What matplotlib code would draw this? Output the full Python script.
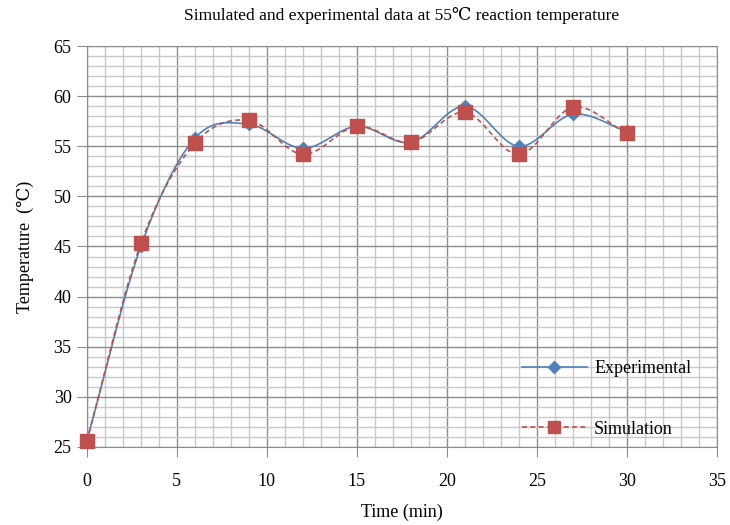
import numpy as np
import matplotlib
matplotlib.use("Agg")
import matplotlib.pyplot as plt
from matplotlib.ticker import MultipleLocator

plt.rcParams['font.family'] = ['Liberation Serif', 'DejaVu Serif', 'DejaVu Sans']

# ---- data ----
time_min = [0, 3, 6, 9, 12, 15, 18, 21, 24, 27, 30]
experimental = [25.6, 45.0, 55.8, 57.2, 54.8, 57.0, 55.4, 59.0, 55.0, 58.2, 56.5]
simulation = [25.6, 45.3, 55.3, 57.6, 54.2, 57.0, 55.4, 58.4, 54.2, 58.9, 56.3]

BLUE = '#4f81bd'
RED = '#c0504d'


def smooth(x, y, n=20):
    # Catmull-Rom curve through the points (mimics Excel "smoothed line")
    x = np.asarray(x, float); y = np.asarray(y, float)
    px = np.concatenate([[2 * x[0] - x[1]], x, [2 * x[-1] - x[-2]]])
    py = np.concatenate([[2 * y[0] - y[1]], y, [2 * y[-1] - y[-2]]])
    t = np.linspace(0, 1, n, endpoint=False)[:, None]
    xs, ys = [], []
    for i in range(1, len(px) - 2):
        for p, out in ((px, xs), (py, ys)):
            p0, p1, p2, p3 = p[i - 1], p[i], p[i + 1], p[i + 2]
            seg = 0.5 * ((2 * p1) + (-p0 + p2) * t + (2 * p0 - 5 * p1 + 4 * p2 - p3) * t ** 2
                         + (-p0 + 3 * p1 - 3 * p2 + p3) * t ** 3)
            out.extend(seg.ravel())
    xs.append(x[-1]); ys.append(y[-1])
    return np.array(xs), np.array(ys)


fig = plt.figure(figsize=(7.3, 5.25), dpi=100)
ax = fig.add_axes([0.119, 0.149, 0.863, 0.763])

sx, sy = smooth(time_min, experimental)
ax.plot(sx, sy, color=BLUE, lw=1.2, zorder=3)
ax.plot(time_min, experimental, ls='none', marker='D', ms=6, color=BLUE,
        zorder=4, clip_on=False)
sx, sy = smooth(time_min, simulation)
ax.plot(sx, sy, color=RED, lw=1.2, ls=(0, (3, 2)), zorder=3)
ax.plot(time_min, simulation, ls='none', marker='s', ms=10, color=RED,
        zorder=5, clip_on=False)

# legend proxies
ax.plot([], [], color=BLUE, lw=1.2, marker='D', ms=6, label='Experimental')
ax.plot([], [], color=RED, lw=1.2, ls=(0, (3, 2)), marker='s', ms=9, label='Simulation')
leg = ax.legend(loc='lower right', bbox_to_anchor=(0.985, -0.018), frameon=False,
                fontsize=13, labelspacing=2.4, handlelength=3.6, handletextpad=0.4)

ax.set_xlim(0, 35)
ax.set_ylim(25, 65)
ax.xaxis.set_major_locator(MultipleLocator(5))
ax.yaxis.set_major_locator(MultipleLocator(5))
ax.xaxis.set_minor_locator(MultipleLocator(1))
ax.yaxis.set_minor_locator(MultipleLocator(1))
ax.grid(which='minor', color='#c8c8c8', lw=1.0)
ax.grid(which='major', color='#8c8c8c', lw=1.0)
ax.set_axisbelow(True)
ax.tick_params(which='major', direction='out', length=7, color='#8c8c8c',
               labelsize=13, pad=12)
ax.tick_params(axis='y', which='major', pad=4)
ax.tick_params(which='minor', length=0)
for s in ax.spines.values():
    s.set_color('#8c8c8c')

ax.set_title('Simulated and experimental data at 55\u2103 reaction temperature',
             fontsize=12.5, pad=19)
ax.set_xlabel('Time (min)', fontsize=13, labelpad=10)
ax.set_ylabel('Temperature  (\u2103)', fontsize=13, labelpad=14)

fig.savefig('out.png', dpi=100)
